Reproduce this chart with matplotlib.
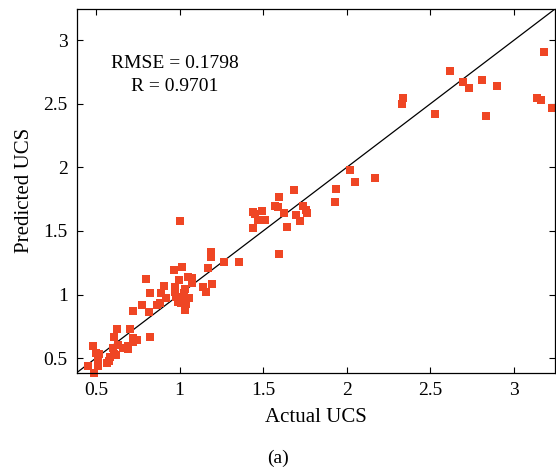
import numpy as np
import matplotlib
matplotlib.use("Agg")
import matplotlib.pyplot as plt

plt.rcParams["font.family"] = ["Liberation Serif", "DejaVu Serif"]

actual_ucs = [
    0.451, 0.490, 0.484, 0.500, 0.520, 0.510, 0.514, 0.567, 0.579, 0.583,
    0.600, 0.609, 0.619, 0.633, 0.609, 0.627, 0.663, 0.689, 0.693, 0.704,
    0.719, 0.722, 0.743, 0.824, 0.722, 0.776, 0.818, 0.865, 0.883, 0.824,
    0.889, 0.919, 0.800, 0.907, 0.971, 0.971, 0.977, 0.996, 1.050, 1.075,
    1.076, 1.030, 1.026, 1.056, 0.990, 1.011, 1.041, 1.030, 1.020, 1.139,
    1.159, 1.193, 0.967, 1.014, 1.002, 1.169, 1.187, 1.187, 1.265, 1.354,
    1.437, 1.454, 1.468, 1.437, 1.493, 1.493, 1.509, 1.573, 1.589, 1.592,
    1.622, 1.640, 1.682, 1.694, 1.718, 1.741, 1.756, 1.762, 1.592, 1.932,
    1.938, 2.021, 2.051, 2.170, 2.331, 2.337, 2.528, 2.617, 2.695, 2.731,
    2.808, 2.897, 2.832, 3.136, 3.160, 3.178, 3.227,
]
predicted_ucs = [
    0.435, 0.385, 0.594, 0.537, 0.536, 0.477, 0.438, 0.463, 0.474, 0.510,
    0.576, 0.532, 0.524, 0.600, 0.663, 0.725, 0.576, 0.594, 0.569, 0.725,
    0.655, 0.626, 0.641, 0.663, 0.874, 0.921, 0.863, 0.914, 0.934, 1.008,
    1.008, 0.975, 1.125, 1.070, 1.057, 1.020, 0.981, 1.118, 1.140, 1.132,
    1.094, 1.047, 1.008, 0.976, 0.942, 0.934, 0.924, 0.882, 0.955, 1.063,
    1.016, 1.086, 1.196, 1.220, 1.580, 1.212, 1.336, 1.295, 1.259, 1.259,
    1.651, 1.635, 1.588, 1.525, 1.653, 1.590, 1.590, 1.700, 1.690, 1.769,
    1.643, 1.533, 1.823, 1.627, 1.580, 1.698, 1.661, 1.645, 1.321, 1.724,
    1.831, 1.980, 1.886, 1.918, 2.500, 2.547, 2.420, 2.759, 2.673, 2.623,
    2.689, 2.639, 2.404, 2.547, 2.529, 2.908, 2.469,
]

rmse = 0.1798
r = 0.9701
lim = (0.385, 3.245)
ticks = [0.5, 1, 1.5, 2, 2.5, 3]
tick_labels = ["0.5", "1", "1.5", "2", "2.5", "3"]

fig = plt.figure(figsize=(5.56, 4.71), dpi=100)
ax = fig.add_axes([0.138, 0.2087, 0.860, 0.772])

# Línea ideal y = x
ax.plot(lim, lim, color="black", linewidth=0.9)
ax.plot(actual_ucs, predicted_ucs, "s", color="#ef4624", markersize=5.6,
        markeredgewidth=0, clip_on=False)

ax.set_xlim(lim)
ax.set_ylim(lim)
ax.set_xticks(ticks)
ax.set_xticklabels(tick_labels)
ax.set_yticks(ticks)
ax.set_yticklabels(tick_labels)
ax.tick_params(direction="in", length=4, width=0.8, top=True, right=True,
               labelsize=14, pad=6.5)
for s in ax.spines.values():
    s.set_linewidth(0.9)

ax.set_xlabel("Actual UCS", fontsize=15, labelpad=7)
ax.set_ylabel("Predicted UCS", fontsize=15, labelpad=6.5)

ax.text(0.2055, 0.8185, f"RMSE = {rmse}\nR = {r}", transform=ax.transAxes,
        ha="center", va="center", fontsize=14, linespacing=1.5)

fig.text(0.5, 1 - 458 / 471, "(a)", ha="center", va="center", fontsize=14)

fig.savefig("out.png", dpi=100)
